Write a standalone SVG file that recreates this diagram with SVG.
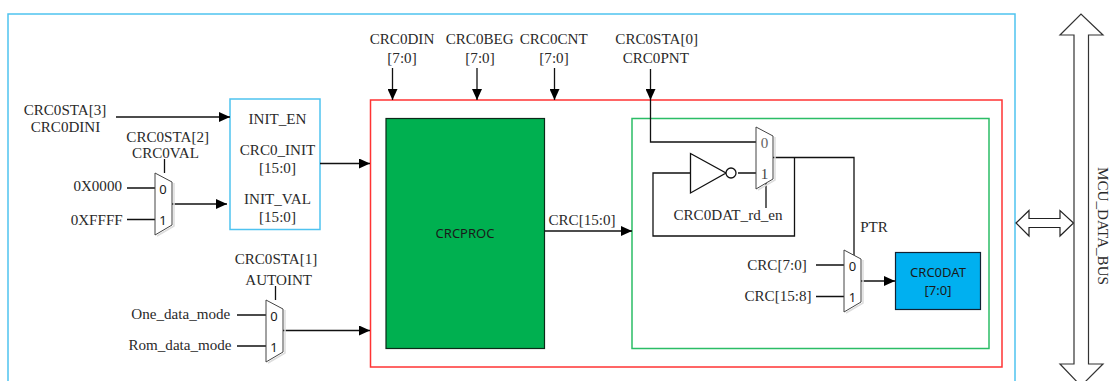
<svg xmlns="http://www.w3.org/2000/svg" width="1112" height="381" viewBox="0 0 1112 381">
<style>
text{font-family:"Liberation Serif","Times New Roman",serif;font-size:15.100px;fill:#2a2a2a;text-anchor:middle}
.s{font-family:"Noto Sans","DejaVu Sans",sans-serif;font-size:13px;fill:#1a1a1a}
.w{fill:none;stroke:#111;stroke-width:1.300}
.m{fill:#fff;stroke:#444;stroke-width:1}
.h{fill:none;stroke:#ddd;stroke-width:1.500}
</style>
<defs>
<marker id="a" markerUnits="userSpaceOnUse" markerWidth="11" markerHeight="10" refX="11" refY="5" orient="auto"><path d="M0 0L11 5L0 10z" fill="#000"/></marker>
</defs>
<rect width="1112" height="381" fill="#fff"/>
<path d="M8 381V14H1015V381" fill="none" stroke="#4fc3f0" stroke-width="1.500"/>
<g id="red-block"><rect x="370.500" y="100" width="631.500" height="267" fill="none" stroke="#f33" stroke-width="1.500"/></g>
<g id="green-block"><rect x="632" y="118.500" width="357" height="230" fill="none" stroke="#2bbd66" stroke-width="1.500"/></g>
<g id="crcproc"><rect x="386" y="118.500" width="158.500" height="230" fill="#00b050" stroke="#0b2a18" stroke-width="1.200"/><text class="s" x="465" y="238">CRCPROC</text></g>
<g id="init-block"><rect x="230" y="99" width="90" height="130.500" fill="#fff" stroke="#4fc3f0" stroke-width="1.500"/>
<text x="277.500" y="124">INIT_EN</text><text x="277.500" y="155">CRC0_INIT</text><text x="277.500" y="173">[15:0]</text><text x="277.500" y="204">INIT_VAL</text><text x="277.500" y="222">[15:0]</text></g>
<g id="crc0dat"><rect x="895.500" y="252.500" width="85" height="57" fill="#00b0f0" stroke="#123" stroke-width="1.200"/><text class="s" x="938" y="277">CRC0DAT</text><text class="s" x="938" y="295">[7:0]</text></g>
<g id="connectors">
<path class="w" marker-end="url(#a)" d="M116 117H230"/>
<path class="w" marker-end="url(#a)" d="M320 163.500H370"/>
<path class="w" marker-end="url(#a)" d="M172 204H227"/>
<path class="w" marker-end="url(#a)" d="M283 330.500H370"/>
<path class="w" marker-end="url(#a)" d="M392.500 68V100"/>
<path class="w" marker-end="url(#a)" d="M477 68V100"/>
<path class="w" marker-end="url(#a)" d="M554.500 68V100"/>
<path class="w" marker-end="url(#a)" d="M650.500 69V100"/>
<path class="w" marker-end="url(#a)" d="M545 231H632"/>
<path class="w" marker-end="url(#a)" d="M861 281H895"/>
<path class="w" d="M164.500 159V173M127 188H155M127 219.500H155"/>
<path class="w" d="M275.500 286V300M237 315H266M237 346H266"/>
<path class="w" d="M650.500 100V142H756"/>
<path class="w" d="M738 173H756M772 157.500H854V255"/>
<path class="w" d="M794.500 157.500V236H653V173H690"/>
<path class="w" d="M766 183V208"/>
<path class="w" d="M816 265H844M816 296.500H844"/>
</g>
<g id="mux-init"><path class="h" d="M157 236L174 226V183"/><path class="m" d="M155 173L172 182V225L155 235z"/><text class="s" x="163" y="194">0</text><text class="s" x="163" y="225">1</text></g>
<g id="mux-auto"><path class="h" d="M268 363L285 353V310"/><path class="m" d="M266 300L283 309V352L266 362z"/><text class="s" x="274" y="321">0</text><text class="s" x="274" y="352">1</text></g>
<g id="mux-pnt"><path class="h" d="M758 190L775 180V137"/><path class="m" d="M756 127L773 136V179L756 189z"/><text x="764.500" y="148" style="fill:#666">0</text><text x="764.500" y="179" style="fill:#444">1</text></g>
<g id="mux-ptr"><path class="h" d="M846 313L863 303V260"/><path class="m" d="M844 250L861 259V302L844 312z"/><text class="s" x="852.500" y="271">0</text><text class="s" x="852.500" y="302">1</text></g>
<g id="inverter"><path d="M690.500 153.500L726 173L690.500 193z" fill="#fff" stroke="#111" stroke-width="1.300"/><circle cx="731" cy="173" r="5" fill="#fff" stroke="#111" stroke-width="1.300"/></g>
<g id="bus-link"><path d="M1016 223L1029 210.500V218.500H1060V210.500L1073.500 223L1060 236V227.500H1029V236z" fill="#fff" stroke="#222" stroke-width="1.200"/></g>
<g id="mcu-bus"><path d="M1081 386L1060 364H1074V35H1060L1081 14L1103 35H1088.500V364H1103L1081 386z" fill="#fff" stroke="#333" stroke-width="1.200"/></g>
<g id="labels">
<text x="65" y="115">CRC0STA[3]</text><text x="65.500" y="132">CRC0DINI</text>
<text x="167.700" y="142">CRC0STA[2]</text><text x="165.500" y="158">CRC0VAL</text>
<text x="97.700" y="191">0X0000</text><text x="96.700" y="225">0XFFFF</text>
<text x="276" y="264">CRC0STA[1]</text><text x="278.700" y="285">AUTOINT</text>
<text x="180.800" y="319">One_data_mode</text><text x="180" y="350">Rom_data_mode</text>
<text x="402" y="44">CRC0DIN</text><text x="402" y="63">[7:0]</text>
<text x="479.700" y="44">CRC0BEG</text><text x="480" y="63">[7:0]</text>
<text x="553.700" y="44">CRC0CNT</text><text x="554" y="63">[7:0]</text>
<text x="656.700" y="44">CRC0STA[0]</text><text x="655.800" y="63">CRC0PNT</text>
<text x="582" y="225">CRC[15:0]</text>
<text x="728" y="220">CRC0DAT_rd_en</text>
<text x="874" y="232">PTR</text>
<text x="777" y="270">CRC[7:0]</text><text x="778" y="301">CRC[15:8]</text>
<text transform="translate(1098 226) rotate(90)">MCU_DATA_BUS</text>
</g>
</svg>
